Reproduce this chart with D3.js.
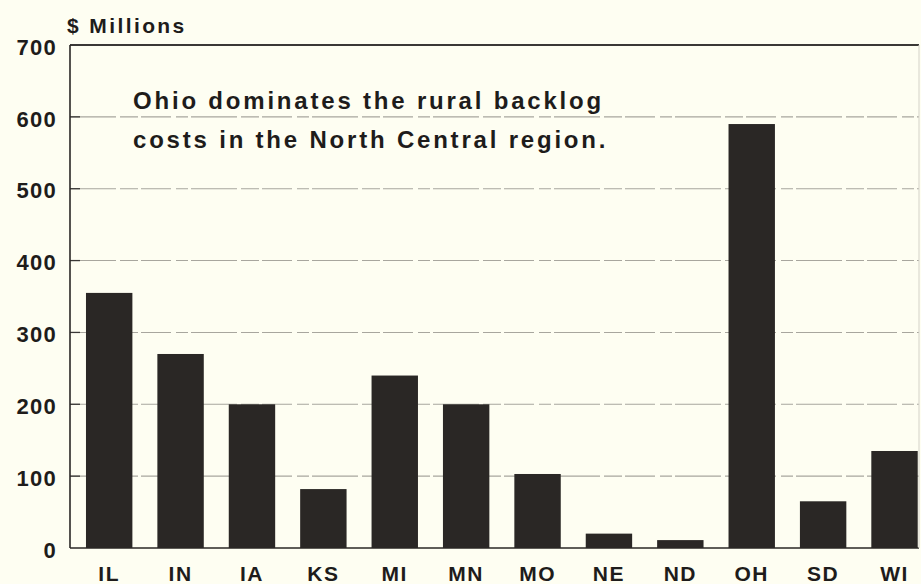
<!DOCTYPE html>
<html>
<head>
<meta charset="utf-8">
<script src="https://cdn.jsdelivr.net/npm/d3@7"></script>
<style>
  body { margin: 0; background: #fefef2; }
  svg { display: block; }
  text { font-family: "Liberation Sans", Arial, sans-serif; fill: #1e1c1b; }
</style>
</head>
<body>
<div id="chart"></div>
<script>
// data
const STATES = ["IL", "IN", "IA", "KS", "MI", "MN", "MO", "NE", "ND", "OH", "SD", "WI"];
const BACKLOG = [355, 270, 200, 82, 240, 200, 103, 20, 11, 590, 65, 135];
const Y_TICKS = [0, 100, 200, 300, 400, 500, 600, 700];
const GRID_LINES = [100, 200, 300, 400, 500, 600];
const NOTE_LINES = ["Ohio dominates the rural backlog", "costs in the North Central region."];

const WIDTH = 921;
const HEIGHT = 584;
const LEFT = 70;
const RIGHT = 919;
const TOP = 45;
const BOTTOM = 548;

const svg = d3.select("#chart").append("svg")
    .attr("width", WIDTH)
    .attr("height", HEIGHT);

svg.append("rect")
    .attr("width", WIDTH)
    .attr("height", HEIGHT)
    .attr("fill", "#fefef2");

const yScale = d3.scaleLinear()
    .domain([0, 700])
    .range([BOTTOM, TOP]);

const xScale = d3.scaleBand()
    .domain(STATES)
    .range([71.7, 932])
    .paddingInner(0.35)
    .paddingOuter(0.2);

// faint broken grid behind the bars
svg.selectAll(".grid")
    .data(GRID_LINES)
    .enter()
    .append("line")
    .attr("class", "grid")
    .attr("x1", LEFT)
    .attr("x2", RIGHT)
    .attr("y1", d => yScale(d))
    .attr("y2", d => yScale(d))
    .attr("stroke", "#a8a69e")
    .attr("stroke-width", 1.1)
    .attr("stroke-dasharray", "46 4 18 3 30 5 12 3");

// short dark ticks on the inside of the axis
svg.selectAll(".tick-in")
    .data(GRID_LINES)
    .enter()
    .append("line")
    .attr("x1", LEFT)
    .attr("x2", LEFT + 10)
    .attr("y1", d => yScale(d))
    .attr("y2", d => yScale(d))
    .attr("stroke", "#3a3836")
    .attr("stroke-width", 1.3);

svg.selectAll(".bar")
    .data(STATES)
    .enter()
    .append("rect")
    .attr("class", "bar")
    .attr("x", d => xScale(d))
    .attr("y", (d, i) => yScale(BACKLOG[i]))
    .attr("width", xScale.bandwidth())
    .attr("height", (d, i) => BOTTOM - yScale(BACKLOG[i]))
    .attr("fill", "#2a2725");

// frame: top, left, bottom, faint right
svg.append("line")
    .attr("x1", LEFT).attr("x2", RIGHT)
    .attr("y1", TOP).attr("y2", TOP)
    .attr("stroke", "#3a3836").attr("stroke-width", 1.8);
svg.append("line")
    .attr("x1", LEFT).attr("x2", LEFT)
    .attr("y1", TOP).attr("y2", BOTTOM)
    .attr("stroke", "#2a2725").attr("stroke-width", 1.6);
svg.append("line")
    .attr("x1", LEFT).attr("x2", RIGHT)
    .attr("y1", BOTTOM).attr("y2", BOTTOM)
    .attr("stroke", "#2a2725").attr("stroke-width", 1.6);
svg.append("line")
    .attr("x1", RIGHT).attr("x2", RIGHT)
    .attr("y1", TOP).attr("y2", BOTTOM)
    .attr("stroke", "#d4d2c8").attr("stroke-width", 1);

// y axis labels via d3 axis, line hidden
const yAxis = d3.axisLeft(yScale)
    .tickValues(Y_TICKS)
    .tickSize(0)
    .tickPadding(13);

const yG = svg.append("g")
    .attr("transform", "translate(" + LEFT + ",0)")
    .call(yAxis);
yG.select(".domain").remove();
yG.selectAll("text")
    .attr("dy", "0.42em")
    .style("font-family", "'Liberation Sans', Arial, sans-serif")
    .style("font-size", "22px")
    .style("font-weight", "bold")
    .style("letter-spacing", "1.3px")
    .style("fill", "#1e1c1b");

// x axis labels
const xAxis = d3.axisBottom(xScale)
    .tickSize(0)
    .tickPadding(18);

const xG = svg.append("g")
    .attr("transform", "translate(0," + BOTTOM + ")")
    .call(xAxis);
xG.select(".domain").remove();
xG.selectAll("text")
    .attr("dy", "0.71em")
    .style("font-family", "'Liberation Sans', Arial, sans-serif")
    .style("font-size", "21px")
    .style("font-weight", "bold")
    .style("letter-spacing", "1.5px")
    .style("fill", "#1e1c1b");

svg.append("text")
    .attr("x", 67)
    .attr("y", 33)
    .attr("font-size", "21px")
    .attr("font-weight", "bold")
    .style("letter-spacing", "2.4px")
    .text("$ Millions");

svg.selectAll(".note")
    .data(NOTE_LINES)
    .enter()
    .append("text")
    .attr("class", "note")
    .attr("x", 133)
    .attr("y", (d, i) => 109 + i * 39)
    .attr("font-size", "24px")
    .attr("font-weight", "bold")
    .style("letter-spacing", "2.8px")
    .text(d => d);
</script>
</body>
</html>
